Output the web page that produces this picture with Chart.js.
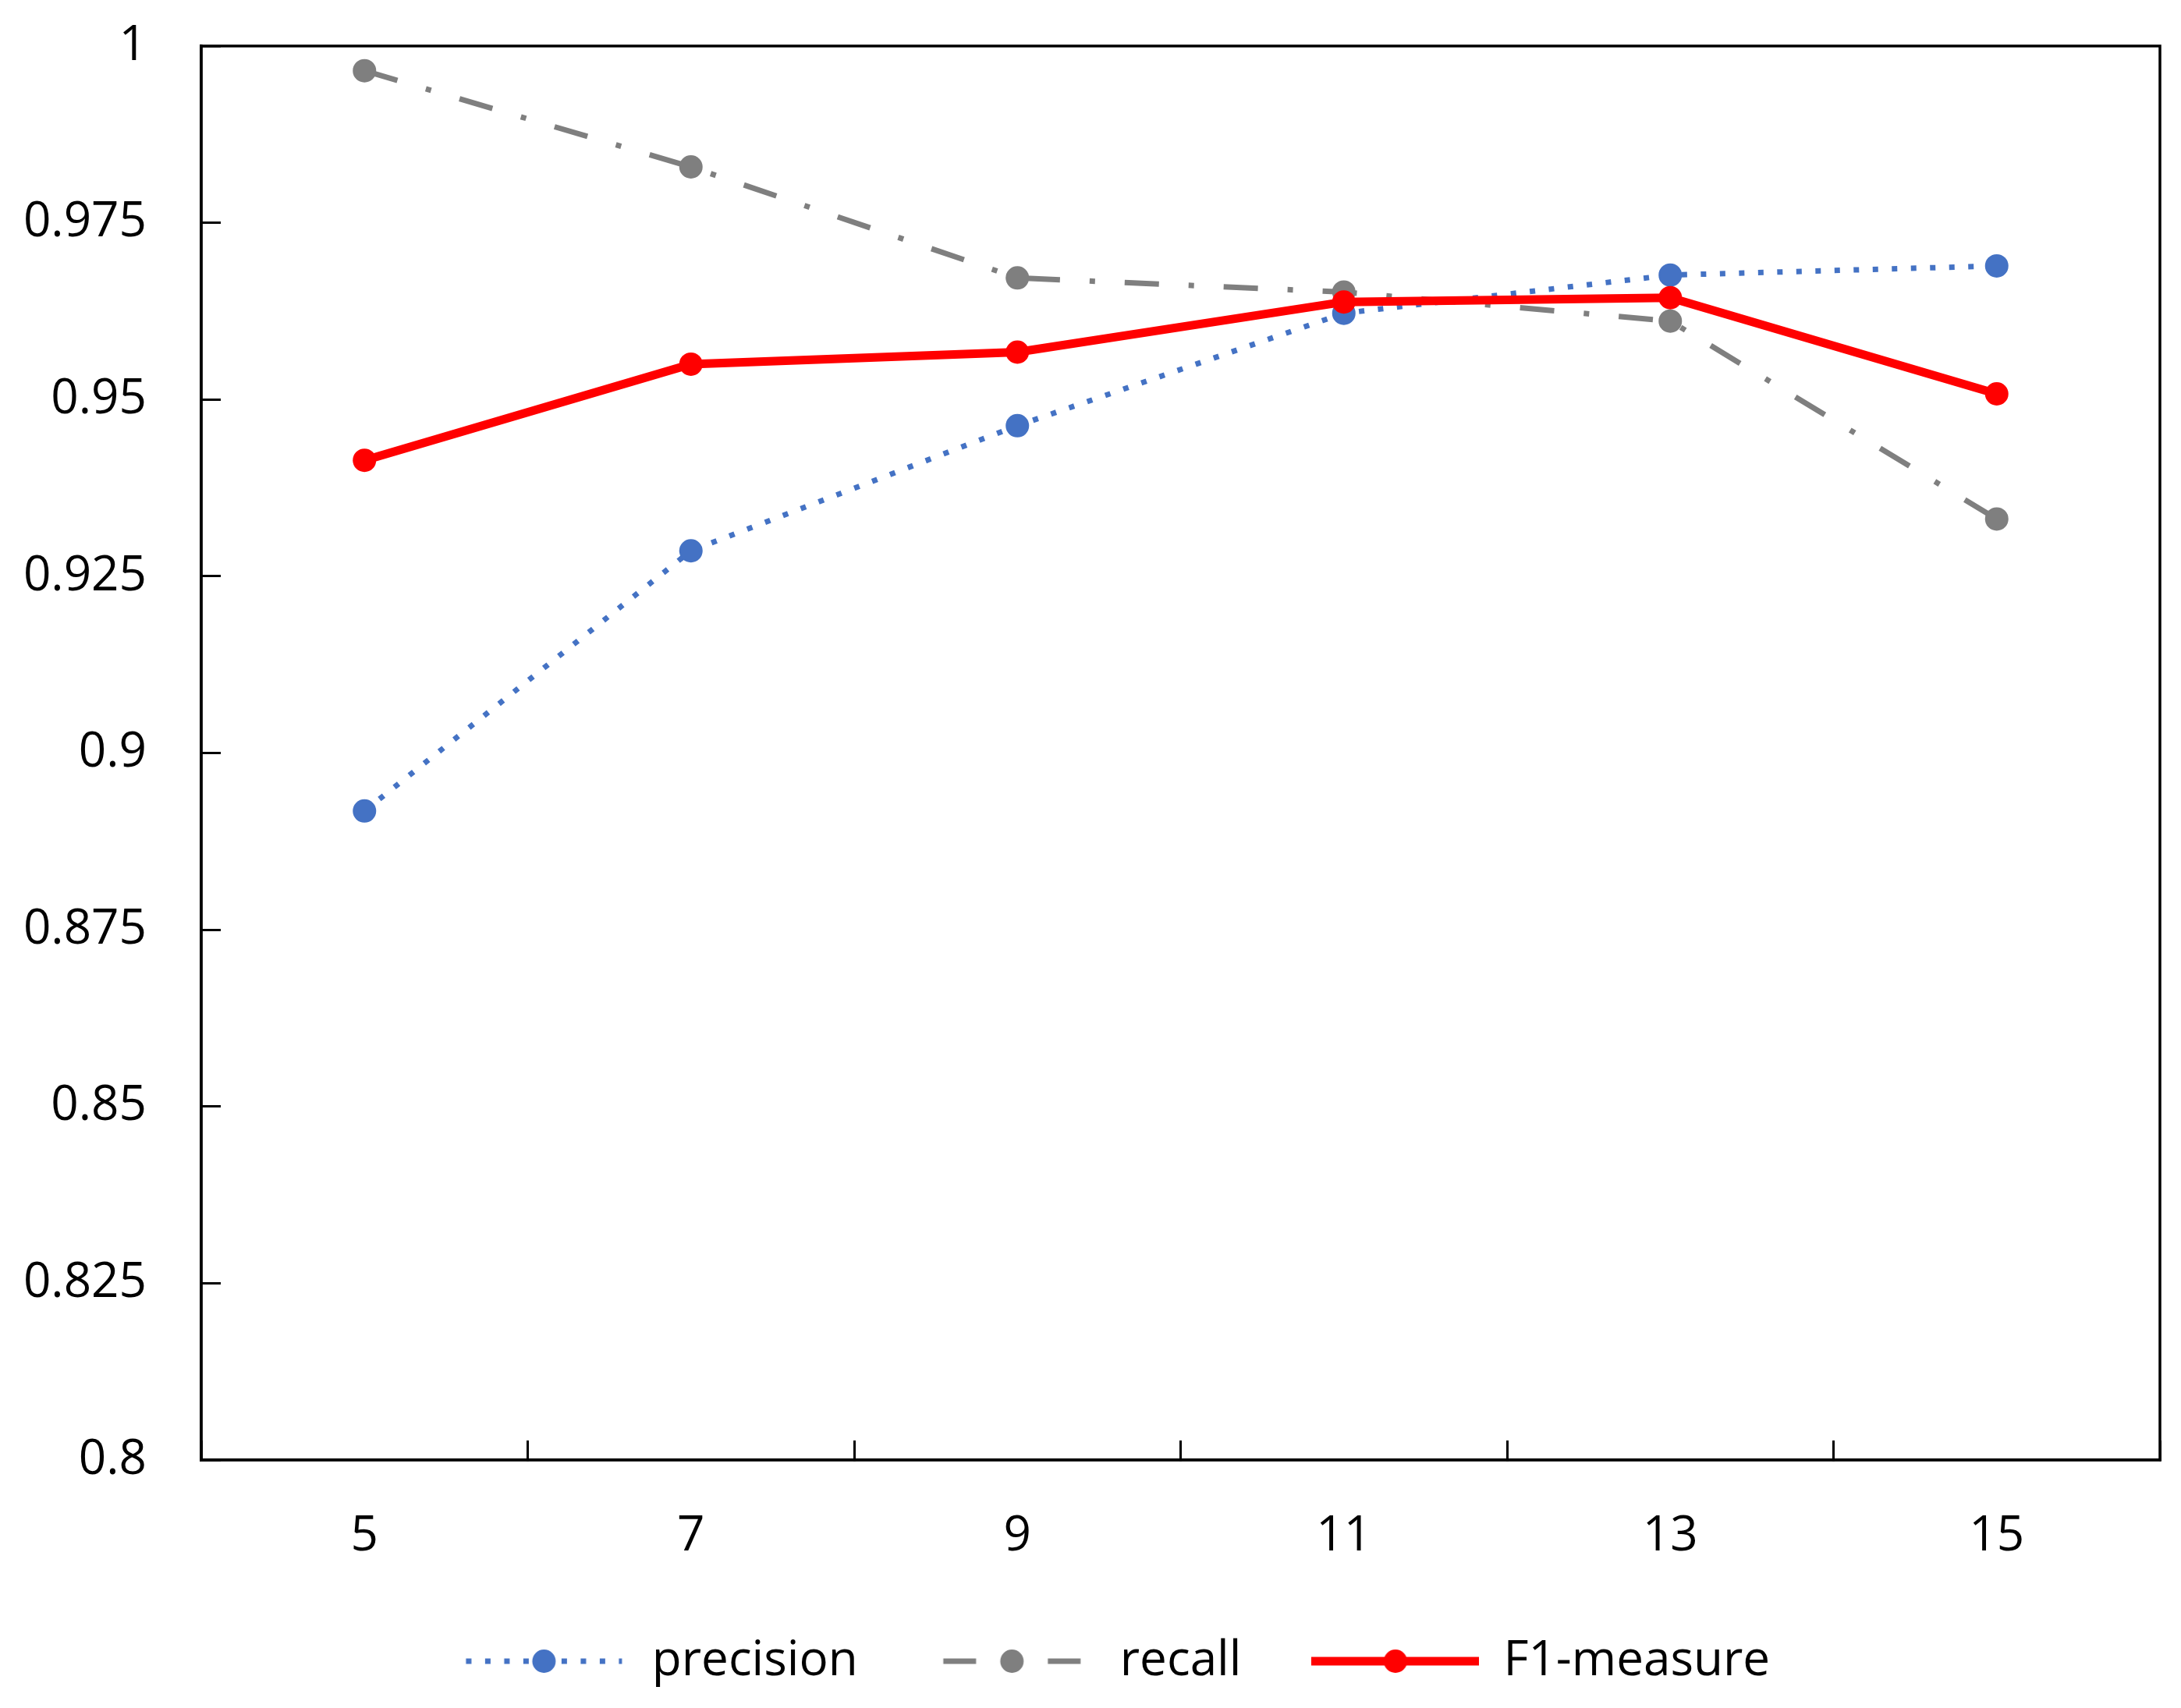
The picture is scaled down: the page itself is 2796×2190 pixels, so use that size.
<!DOCTYPE html>
<html>
<head>
<meta charset="utf-8">
<title>precision / recall / F1-measure</title>
<script src="https://cdn.jsdelivr.net/npm/chart.js@4.4.1/dist/chart.umd.min.js"></script>
<style>
  html, body { margin: 0; padding: 0; background: #fff; }
  #wrap { width: 2796px; height: 2190px; }
</style>
</head>
<body>
<div id="wrap"><canvas id="prfChart" width="2796" height="2190"></canvas></div>
<script>
// values
const windowSizes = ['5', '7', '9', '11', '13', '15'];
const precision = [0.8918, 0.9286, 0.9463, 0.9622, 0.9676, 0.9689];
const recall    = [0.9965, 0.9829, 0.9672, 0.9652, 0.9611, 0.9331];
const f1Measure = [0.9414, 0.9550, 0.9567, 0.9638, 0.9644, 0.9508];
const yTickValues = [0.8, 0.825, 0.85, 0.875, 0.9, 0.925, 0.95, 0.975, 1];
const yTickLabels = ['0.8', '0.825', '0.85', '0.875', '0.9', '0.925', '0.95', '0.975', '1'];

const BLUE = '#4472C4', GRAY = '#7F7F7F', RED = '#FF0000';
const FONT = { family: "'Open Sans', 'Noto Sans', sans-serif", size: 62 };

// small picture of line + marker, used as legend symbol
function legendSample(color, lineWidth, dash, lineLen) {
  const c = document.createElement('canvas');
  c.width = 215; c.height = 40;
  const g = c.getContext('2d');
  const x0 = (c.width - lineLen) / 2;
  g.strokeStyle = color;
  g.lineWidth = lineWidth;
  g.setLineDash(dash);
  g.beginPath();
  g.moveTo(x0, 20);
  g.lineTo(x0 + lineLen, 20);
  g.stroke();
  g.setLineDash([]);
  g.fillStyle = color;
  g.beginPath();
  g.arc(c.width / 2, 20, 15, 0, Math.PI * 2);
  g.fill();
  return c;
}
const samples = [
  legendSample(BLUE, 7, [7, 17.5], 200),
  legendSample(GRAY, 7, [42, 92], 176),
  legendSample(RED, 11, [], 215)
];

// closed box round the plot area, legend nudged to sit under the plot
const frame = {
  id: 'frame',
  afterLayout(chart) {
    chart.legend.left += 45;
    chart.legend.right += 45;
  },
  afterDraw(chart) {
    const { ctx, chartArea: a } = chart;
    ctx.save();
    ctx.strokeStyle = '#000';
    ctx.lineWidth = 3.5;
    ctx.strokeRect(a.left, a.top, a.right - a.left, a.bottom - a.top);
    ctx.restore();
  }
};

Chart.defaults.color = '#000';
Chart.defaults.font.family = FONT.family;

new Chart(document.getElementById('prfChart'), {
  type: 'line',
  data: {
    labels: windowSizes,
    datasets: [
      {
        label: 'precision', data: precision, order: 1,
        borderColor: BLUE, backgroundColor: BLUE, borderWidth: 7, borderDash: [7, 17.5],
        pointRadius: 15, pointBorderWidth: 0, pointBackgroundColor: BLUE, tension: 0
      },
      {
        label: 'recall', data: recall, order: 2,
        borderColor: GRAY, backgroundColor: GRAY, borderWidth: 7, borderDash: [44, 38, 7, 38],
        pointRadius: 15, pointBorderWidth: 0, pointBackgroundColor: GRAY, tension: 0
      },
      {
        label: 'F1-measure', data: f1Measure, order: 0,
        borderColor: RED, backgroundColor: RED, borderWidth: 11,
        pointRadius: 15, pointBorderWidth: 0, pointBackgroundColor: RED, tension: 0
      }
    ]
  },
  options: {
    responsive: false,
    devicePixelRatio: 1,
    animation: false,
    layout: { padding: { left: 0, right: 27, top: 59, bottom: 19 } },
    plugins: {
      tooltip: { enabled: false },
      legend: {
        position: 'bottom',
        labels: {
          font: FONT,
          usePointStyle: true,
          pointStyleWidth: 215,
          padding: 90,
          sort: (a, b) => a.datasetIndex - b.datasetIndex,
          generateLabels: function(chart) {
            const items = Chart.defaults.plugins.legend.labels.generateLabels(chart);
            items.forEach(it => { it.pointStyle = samples[it.datasetIndex]; });
            return items;
          }
        }
      }
    },
    scales: {
      x: {
        type: 'category',
        offset: true,
        grid: { offset: true, drawOnChartArea: false, drawTicks: true, tickLength: -25, tickColor: '#000', tickWidth: 3 },
        border: { display: true, color: '#000', width: 3.5 },
        ticks: { font: FONT, padding: 86, maxRotation: 0 },
        afterFit: s => { s.height = 137; }
      },
      y: {
        min: 0.8,
        max: 1,
        grid: { drawOnChartArea: false, drawTicks: true, tickLength: -25, tickColor: '#000', tickWidth: 3 },
        border: { display: true, color: '#000', width: 3.5 },
        afterBuildTicks: s => { s.ticks = yTickValues.map(v => ({ value: v })); },
        ticks: {
          font: FONT,
          padding: 95,
          callback: (v, i) => yTickLabels[i]
        },
        afterFit: s => { s.width = 258; s.paddingTop = 0; s.paddingBottom = 0; }
      }
    }
  },
  plugins: [frame]
});
</script>
</body>
</html>
